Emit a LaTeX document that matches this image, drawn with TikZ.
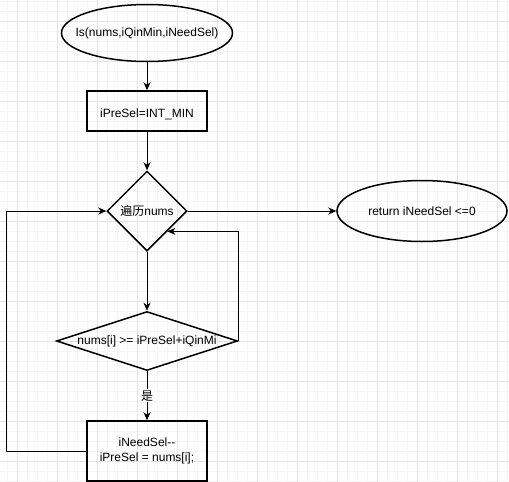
\documentclass[tikz,border=0pt]{standalone}
\usepackage{fontspec}
\setmainfont{Liberation Sans}
\newfontfamily\cjk{Noto Sans CJK SC}
\usetikzlibrary{shapes.geometric,arrows.meta}

\tikzset{
	flow/.style={draw, line width=1.5pt, inner sep=0pt},
	terminal/.style={flow, ellipse, minimum width=171pt, minimum height=57pt},
	procbox/.style={flow, rectangle, minimum width=120pt, align=center},
	decision/.style={flow, diamond},
	link/.style={line width=1pt, -{Stealth[length=8pt,width=7pt,inset=2.5pt]}},
	gridminor/.style={gray!8, line width=0.6pt},
	gridmajor/.style={gray!22, line width=0.6pt}
}

\begin{document}
\begin{tikzpicture}[x=1pt, y=-1pt, font=\fontsize{12}{15}\selectfont]
	\useasboundingbox (0,0) rectangle (509,482);
	% background grid
	\foreach \x in {7,17,...,507} \draw[gridminor] (\x,0) -- (\x,482);
	\foreach \y in {1,11,...,481} \draw[gridminor] (0,\y) -- (509,\y);
	\foreach \x in {17,57,...,497} \draw[gridmajor] (\x,0) -- (\x,482);
	\foreach \y in {21,61,...,461} \draw[gridmajor] (0,\y) -- (509,\y);

	\node[terminal, label=center:{Is(nums,iQinMin,iNeedSel)}] (start) at (147,33) {};
	\node[procbox, minimum height=40pt] (init) at (147,111) {\mbox{}\\iPreSel=INT\_MIN};
	\node[decision, minimum width=80pt, minimum height=80pt, label=center:{{\cjk 遍历}nums}] (loop) at (147,211) {};
	\node[terminal, minimum width=170pt, minimum height=61pt, label=center:{return iNeedSel <=0}] (ret) at (422,211) {};
	\node[decision, minimum width=181pt, minimum height=59pt, label=center:{nums[i] >= iPreSel+iQinMi}] (cond) at (147,341) {};
	\node[procbox, minimum height=60pt] (upd) at (147,451) {iNeedSel-{}-\\iPreSel = nums[i];};

	\path[link]
		(start) edge (init)
		(init) edge (loop)
		(loop) edge (ret)
		(loop) edge (cond)
		(cond) edge node [fill=white, inner sep=1pt] {\cjk 是} (upd);
	\draw[link] (cond.east) |- (loop.south east);
	\draw[link] (upd.west) -- ++(-80,0) |- (loop.west);
\end{tikzpicture}
\end{document}
